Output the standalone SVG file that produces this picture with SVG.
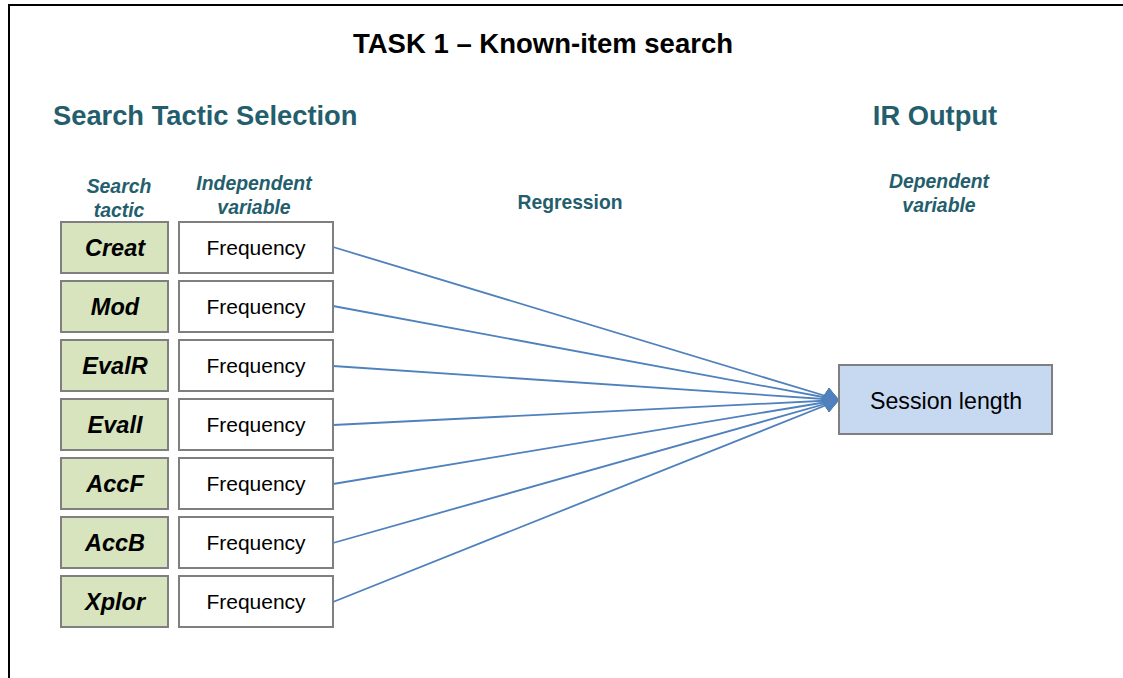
<svg xmlns="http://www.w3.org/2000/svg" width="1123" height="678" viewBox="0 0 1123 678">
  <style>
    .title { font-family: "Liberation Sans", Arial, sans-serif; font-weight: bold; font-size: 27.5px; fill: #000; }
    .head { font-family: "Liberation Sans", Arial, sans-serif; font-weight: bold; font-size: 27.3px; fill: #245E6D; }
    .sub { font-family: "Liberation Sans", Arial, sans-serif; font-weight: bold; font-style: italic; font-size: 19.4px; fill: #245E6D; text-anchor: middle; }
    .reg { font-family: "Liberation Sans", Arial, sans-serif; font-weight: bold; font-size: 19.3px; fill: #245E6D; text-anchor: middle; }
    .tactic rect { fill: #D7E4BD; stroke: #7F7F7F; stroke-width: 2; }
    .tactic text { font-family: "Liberation Sans", Arial, sans-serif; font-weight: bold; font-style: italic; font-size: 23.5px; fill: #000; text-anchor: middle; }
    .freq rect { fill: #FFFFFF; stroke: #7F7F7F; stroke-width: 2; }
    .freq text { font-family: "Liberation Sans", Arial, sans-serif; font-size: 21px; fill: #000; text-anchor: middle; }
    .out rect { fill: #C6D9F1; stroke: #7F7F7F; stroke-width: 2; }
    .out text { font-family: "Liberation Sans", Arial, sans-serif; font-size: 23.2px; fill: #000; text-anchor: middle; }
    .conn line { stroke: #4F81BD; stroke-width: 1.8; }
  </style>
  <defs>
    <marker id="diamond" viewBox="0 0 18 24" refX="18" refY="12" markerWidth="18" markerHeight="24" markerUnits="userSpaceOnUse" orient="0">
      <path d="M0,12 L8,0 L18,12 L8,24 Z" fill="#4F81BD"/>
    </marker>
  </defs>

  <rect width="1123" height="678" fill="#FFFFFF"/>
  <!-- frame -->
  <path d="M9,678 L9,5 L1123,5" fill="none" stroke="#000" stroke-width="2"/>

  <text class="title" x="543" y="53" text-anchor="middle">TASK 1 – Known-item search</text>
  <text class="head" x="53" y="125">Search Tactic Selection</text>
  <text class="head" x="935" y="125" text-anchor="middle">IR Output</text>

  <text class="sub" x="119" y="193">Search</text>
  <text class="sub" x="119" y="217">tactic</text>
  <text class="sub" x="254" y="190">Independent</text>
  <text class="sub" x="254" y="214">variable</text>
  <text class="reg" x="570" y="209">Regression</text>
  <text class="sub" x="939" y="188">Dependent</text>
  <text class="sub" x="939" y="212">variable</text>

  <!-- connectors -->
  <g id="connectors" class="conn">
    <line x1="333" y1="247" x2="839" y2="400" marker-end="url(#diamond)"/>
    <line x1="333" y1="306" x2="839" y2="400" marker-end="url(#diamond)"/>
    <line x1="333" y1="366" x2="839" y2="400" marker-end="url(#diamond)"/>
    <line x1="333" y1="425" x2="839" y2="400" marker-end="url(#diamond)"/>
    <line x1="333" y1="484" x2="839" y2="400" marker-end="url(#diamond)"/>
    <line x1="333" y1="543" x2="839" y2="400" marker-end="url(#diamond)"/>
    <line x1="333" y1="602" x2="839" y2="400" marker-end="url(#diamond)"/>
  </g>

  <!-- tactic nodes -->
  <g id="tactic-creat" class="tactic"><rect x="61" y="222" width="107" height="51"/><text x="115" y="256">Creat</text></g>
  <g id="tactic-mod" class="tactic"><rect x="61" y="281" width="107" height="51"/><text x="115" y="315">Mod</text></g>
  <g id="tactic-evalr" class="tactic"><rect x="61" y="340" width="107" height="51"/><text x="115" y="374">EvalR</text></g>
  <g id="tactic-evali" class="tactic"><rect x="61" y="399" width="107" height="51"/><text x="115" y="433">EvalI</text></g>
  <g id="tactic-accf" class="tactic"><rect x="61" y="458" width="107" height="51"/><text x="115" y="492">AccF</text></g>
  <g id="tactic-accb" class="tactic"><rect x="61" y="517" width="107" height="51"/><text x="115" y="551">AccB</text></g>
  <g id="tactic-xplor" class="tactic"><rect x="61" y="576" width="107" height="51"/><text x="115" y="610">Xplor</text></g>

  <!-- frequency nodes -->
  <g id="freq-creat" class="freq"><rect x="179" y="222" width="154" height="51"/><text x="256" y="255">Frequency</text></g>
  <g id="freq-mod" class="freq"><rect x="179" y="281" width="154" height="51"/><text x="256" y="314">Frequency</text></g>
  <g id="freq-evalr" class="freq"><rect x="179" y="340" width="154" height="51"/><text x="256" y="373">Frequency</text></g>
  <g id="freq-evali" class="freq"><rect x="179" y="399" width="154" height="51"/><text x="256" y="432">Frequency</text></g>
  <g id="freq-accf" class="freq"><rect x="179" y="458" width="154" height="51"/><text x="256" y="491">Frequency</text></g>
  <g id="freq-accb" class="freq"><rect x="179" y="517" width="154" height="51"/><text x="256" y="550">Frequency</text></g>
  <g id="freq-xplor" class="freq"><rect x="179" y="576" width="154" height="51"/><text x="256" y="609">Frequency</text></g>

  <!-- output node -->
  <g id="session-length" class="out"><rect x="839" y="365" width="213" height="69"/><text x="946" y="409">Session length</text></g>
</svg>
